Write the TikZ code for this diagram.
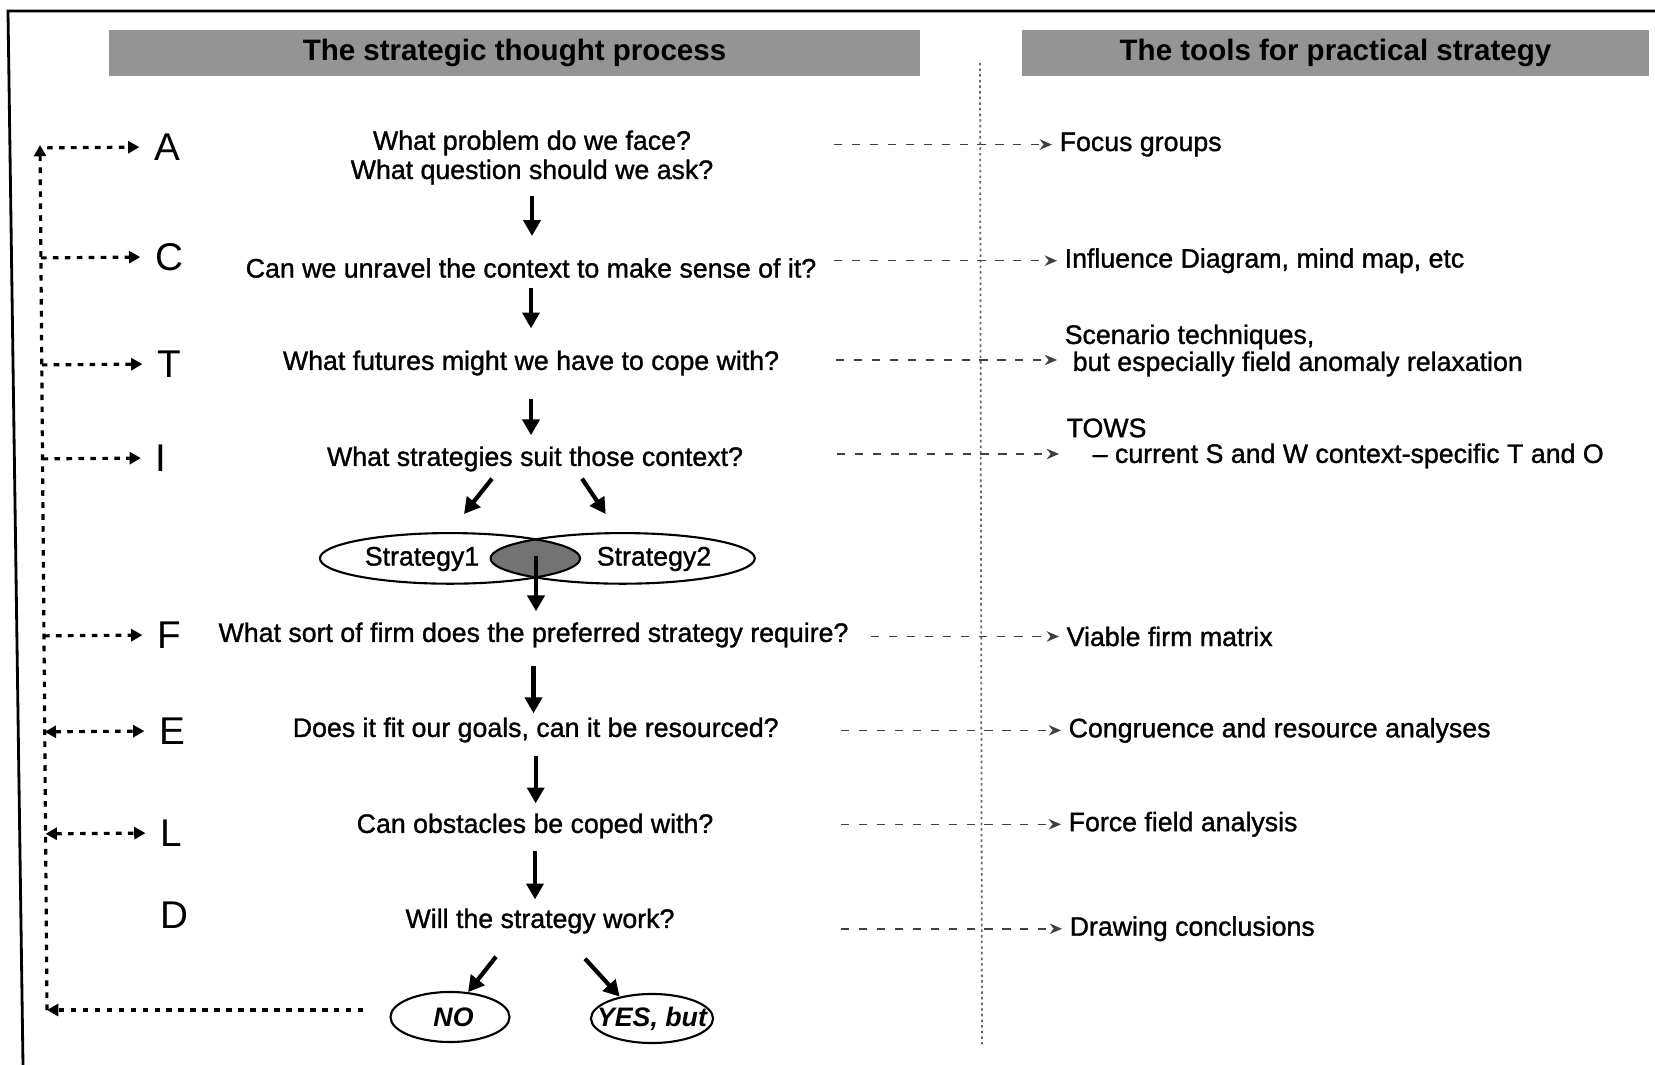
\documentclass[tikz,border=0pt]{standalone}
\usepackage{fontspec}
\setmainfont{Liberation Sans}
\newfontfamily\heavyfont[FakeBold=1.2]{Liberation Sans}
\usetikzlibrary{arrows.meta,shapes.geometric,calc}
\begin{document}
\begin{tikzpicture}[x=0.01cm,y=-0.01cm,
  qtext/.style={font=\heavyfont\fontsize{7.6}{8.3}\selectfont, inner sep=1pt, align=center},
  letter/.style={font=\fontsize{11}{12}\selectfont, inner sep=0pt},
  tool/.style={font=\heavyfont\fontsize{7.6}{8.3}\selectfont, inner sep=0pt, anchor=west},
  header/.style={fill=black!42, font=\bfseries\fontsize{8.4}{9}\selectfont, inner sep=0pt, minimum height=0.46cm},
  flow/.style={line width=1.2pt, -{Triangle[length=4.5pt,width=4.8pt]}},
  loopline/.style={line width=0.9pt, dash pattern=on 1.6pt off 1.8pt},
  looptip/.style={-{Triangle[length=3.2pt,width=3.4pt]}},
  looptips/.style={{Triangle[length=3.2pt,width=3.4pt]}-{Triangle[length=3.2pt,width=3.4pt]}},
  toolarrow/.style={line width=0.45pt, black!75, dash pattern=on 2.3pt off 2.8pt, -{Stealth[length=3.5pt,width=3pt]}, shorten >=2pt},
  oval/.style={ellipse, draw, line width=0.6pt, inner sep=0pt},
]
\useasboundingbox (0,0) rectangle (1655,1065);

% frame
\draw[line width=0.8pt] (1655,11) -- (8,11) -- (23,1065);

% headers
\node[header, minimum width=8.11cm] (h1) at (514.5,53) {The strategic thought process};
\node[header, minimum width=6.27cm] (h2) at (1335.5,53) {The tools for practical strategy};

% divider
\coordinate (dtop) at (980,63);
\coordinate (dbot) at (982,1045);
\draw[line width=0.5pt, black!60, dash pattern=on 0.7pt off 0.9pt] (dtop) -- (dbot);

% questions
\node[qtext] (qA) at (532,157.5) {What problem do we face?\\What question should we ask?};
\node[qtext] (qC) at (531,268) {Can we unravel the context to make sense of it?};
\node[qtext] (qT) at (531,363) {What futures might we have to cope with?};
\node[qtext] (qI) at (535,459) {What strategies suit those context?};
\node[qtext] (qF) at (533.5,635) {What sort of firm does the preferred strategy require?};
\node[qtext] (qE) at (535.7,730) {Does it fit our goals, can it be resourced?};
\node[qtext] (qL) at (535,826) {Can obstacles be coped with?};
\node[qtext] (qD) at (540,921) {Will the strategy work?};

% strategy ellipses with shaded overlap
\begin{scope}
  \clip (450,558.4) ellipse [x radius=130, y radius=25.3];
  \fill[black!55] (622.7,558.4) ellipse [x radius=132, y radius=25.3];
\end{scope}
\node[oval, minimum width=2.6cm, minimum height=0.506cm] (s1) at (450,558.4) {};
\node[oval, minimum width=2.64cm, minimum height=0.506cm] (s2) at (622.7,558.4) {};
\node[qtext, inner sep=0pt] (s1t) at (422,559) {Strategy1};
\node[qtext, inner sep=0pt] (s2t) at (654,559) {Strategy2};
\coordinate (lens) at (536,556);

% outcome ellipses
\node[oval, font=\bfseries\itshape\fontsize{7.6}{8.3}\selectfont, minimum width=1.19cm, minimum height=0.5cm] (no) at (450,1017) {\makebox[0pt]{\hspace{2pt}NO}};
\node[oval, font=\bfseries\itshape\fontsize{7.6}{8.3}\selectfont, minimum width=1.22cm, minimum height=0.49cm] (yes) at (652,1018.5) {\makebox[0pt]{YES, but}};

% flow arrows
\draw[flow, shorten <=2pt, shorten >=5.1pt] (qA.south) -- (qA.south |- qC.north);
\draw[flow, shorten <=1.7pt, shorten >=5.1pt] (qC.south) -- (qC.south |- qT.north);
\draw[flow, shorten <=5.4pt, shorten >=2pt] (qT.south) -- (qT.south |- qI.north);
\draw[flow] ($(qI.south)+(-43,3)$) -- ($(s1.north)+(14,-18)$);
\draw[flow] ($(qI.south)+(47,3)$) -- ($(s2.north)+(-17,-18)$);
\draw[flow, shorten >=2pt] (lens) -- (lens |- qF.north);
\draw[flow, shorten <=4pt] (qF.south) -- (qF.south |- qE.north);
\draw[flow, shorten <=2.6pt, shorten >=1.7pt] (qE.south) -- (qE.south |- qL.north);
\draw[flow, shorten <=2.3pt, shorten >=1.4pt] (qL.south) -- (qL.south |- qD.north);
\draw[flow] ($(qD.south)+(-44,19)$) -- (no.54);
\draw[flow] ($(qD.south)+(45,21)$) -- (yes.146);

% letters
\node[letter] (lA) at (167,147) {A};
\node[letter] (lC) at (169,257) {C};
\node[letter] (lT) at (169,364) {T};
\node[letter] (lI) at (161,458) {I};
\node[letter] (lF) at (169,635) {F};
\node[letter] (lE) at (172,731) {E};
\node[letter] (lL) at (171,833) {L};
\node[letter] (lD) at (174,915) {D};

% feedback loop
\coordinate (Ltop) at (40,145);
\coordinate (Lbot) at (47,1010);
\draw[loopline, looptip] (Lbot) -- (Ltop);
\draw[loopline, looptip, shorten <=7.4pt] (no.west |- Lbot) -- (Lbot);
\draw[loopline, looptip, shorten <=2pt, shorten >=4pt] ($(Ltop)!(lA.west)!(Lbot)$) -- (lA.west);
\draw[loopline, looptip, shorten >=4pt] ($(Ltop)!(lC.west)!(Lbot)$) -- (lC.west);
\draw[loopline, looptip, shorten >=4pt] ($(Ltop)!(lT.west)!(Lbot)$) -- (lT.west);
\draw[loopline, looptip, shorten >=4pt] ($(Ltop)!(lI.west)!(Lbot)$) -- (lI.west);
\draw[loopline, looptip, shorten >=4pt] ($(Ltop)!(lF.west)!(Lbot)$) -- (lF.west);
\draw[loopline, looptips, shorten >=4pt] ($(Ltop)!(lE.west)!(Lbot)$) -- (lE.west);
\draw[loopline, looptips, shorten >=4pt] ($(Ltop)!(lL.west)!(Lbot)$) -- (lL.west);

% tools
\node[tool] (tA) at (1059,144.6) {Focus groups};
\node[tool] (tC) at (1064,260.7) {Influence Diagram, mind map, etc};
\node[tool] (tT1) at (1064,337) {Scenario techniques,};
\node[tool] (tT2) at (1072,364) {but especially field anomaly relaxation};
\node[tool] (tI1) at (1066,428) {TOWS};
\node[tool] (tI2) at (1092,456) {– current S and W context-specific T and O};
\node[tool] (tF) at (1066,636.5) {Viable firm matrix};
\node[tool] (tE) at (1068,730.4) {Congruence and resource analyses};
\node[tool] (tL) at (1068,824.3) {Force field analysis};
\node[tool] (tD) at (1069,928.8) {Drawing conclusions};

% tool arrows
\coordinate (sA) at (834,144.6);
\coordinate (sC) at (834,260.7);
\coordinate (sT) at (836,360);
\coordinate (sI) at (837,454);
\coordinate (sF) at (871,636.5);
\coordinate (sE) at (841,730.4);
\coordinate (sL) at (841,824.3);
\coordinate (sD) at (841,928.8);
\draw[toolarrow] (sA) -- (sA -| tA.west);
\draw[toolarrow] (sC) -- (sC -| tC.west);
\draw[toolarrow] (sT) -- (sT -| tT1.west);
\draw[toolarrow] (sI) -- (sI -| tI1.west);
\draw[toolarrow] (sF) -- (sF -| tF.west);
\draw[toolarrow] (sE) -- (sE -| tE.west);
\draw[toolarrow] (sL) -- (sL -| tL.west);
\draw[toolarrow] (sD) -- (sD -| tD.west);
\end{tikzpicture}
\end{document}
